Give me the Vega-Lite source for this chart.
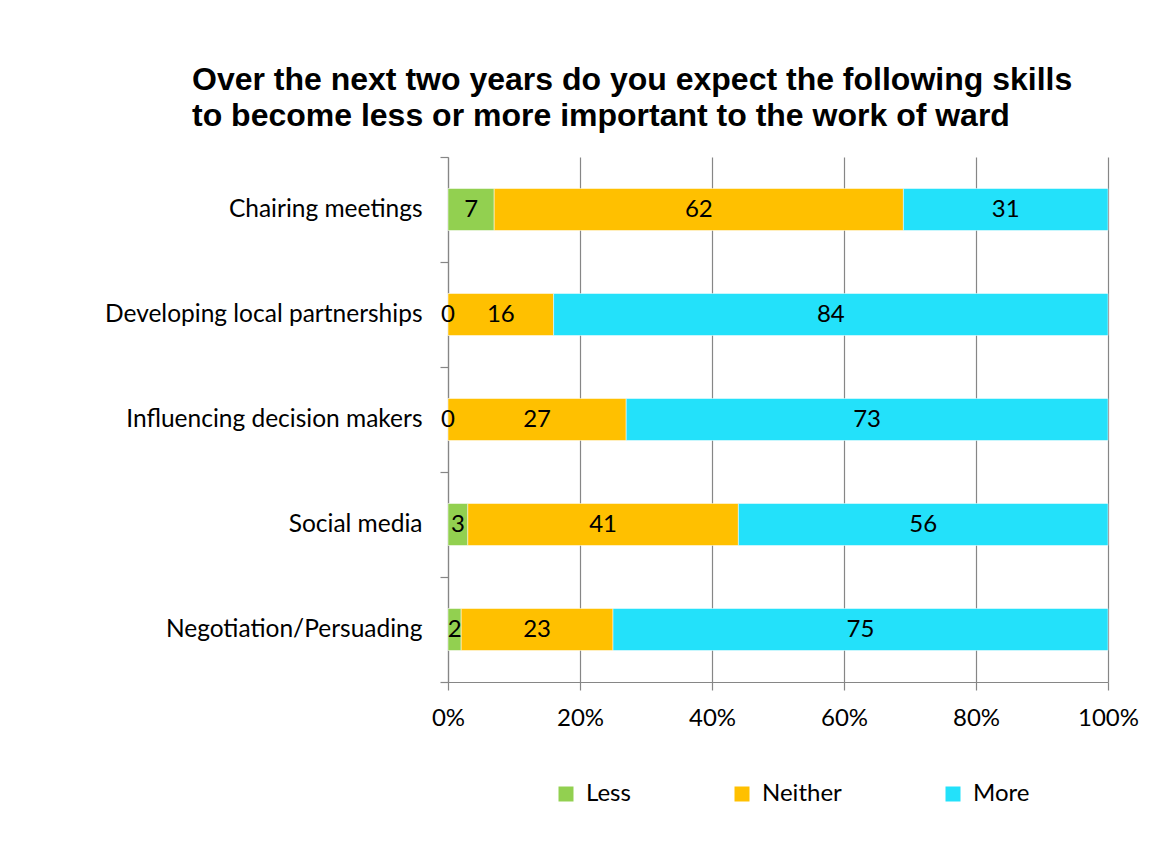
{
  "$schema": "https://vega.github.io/schema/vega-lite/v6.json",
  "width": 660,
  "height": 525,
  "autosize": {"type": "none"},
  "padding": {"left": 448, "top": 157, "right": 50, "bottom": 164},
  "background": "white",
  "title": {
    "text": [
      "Over the next two years do you expect the following skills",
      "to become less or more important to the work of ward"
    ],
    "anchor": "start",
    "frame": "group",
    "dx": -256,
    "offset": 11,
    "font": "Liberation Sans",
    "fontSize": 32,
    "fontWeight": "bold",
    "color": "black",
    "lineHeight": 36
  },
  "data": {
    "values": [
      {"skill": "Chairing meetings", "response": "Less", "order": 1, "value": 7},
      {"skill": "Chairing meetings", "response": "Neither", "order": 2, "value": 62},
      {"skill": "Chairing meetings", "response": "More", "order": 3, "value": 31},
      {"skill": "Developing local partnerships", "response": "Less", "order": 1, "value": 0},
      {"skill": "Developing local partnerships", "response": "Neither", "order": 2, "value": 16},
      {"skill": "Developing local partnerships", "response": "More", "order": 3, "value": 84},
      {"skill": "Influencing decision makers", "response": "Less", "order": 1, "value": 0},
      {"skill": "Influencing decision makers", "response": "Neither", "order": 2, "value": 27},
      {"skill": "Influencing decision makers", "response": "More", "order": 3, "value": 73},
      {"skill": "Social media", "response": "Less", "order": 1, "value": 3},
      {"skill": "Social media", "response": "Neither", "order": 2, "value": 41},
      {"skill": "Social media", "response": "More", "order": 3, "value": 56},
      {"skill": "Negotiation/Persuading", "response": "Less", "order": 1, "value": 2},
      {"skill": "Negotiation/Persuading", "response": "Neither", "order": 2, "value": 23},
      {"skill": "Negotiation/Persuading", "response": "More", "order": 3, "value": 75}
    ]
  },
  "transform": [
    {"stack": "value", "groupby": ["skill"], "sort": [{"field": "order"}], "as": ["s0", "s1"]}
  ],
  "encoding": {
    "y": {
      "field": "skill",
      "type": "nominal",
      "sort": [
        "Chairing meetings",
        "Developing local partnerships",
        "Influencing decision makers",
        "Social media",
        "Negotiation/Persuading"
      ],
      "scale": {"paddingInner": 0, "paddingOuter": 0},
      "axis": {
        "title": null,
        "domainColor": "#868686",
        "domainWidth": 1.2,
        "tickColor": "#868686",
        "tickWidth": 1.2,
        "tickSize": 8,
        "tickBand": "extent",
        "labelFont": "Lato",
        "labelFontSize": 24.5,
        "labelColor": "black",
        "labelPadding": 18,
        "labelLimit": 0,
        "grid": false
      }
    }
  },
  "layer": [
    {
      "mark": {"type": "bar", "stroke": "white", "strokeWidth": 0.5, "height": {"band": 0.4}},
      "encoding": {
        "x": {
          "field": "s0",
          "type": "quantitative",
          "scale": {"domain": [0, 100], "nice": false},
          "axis": {
            "title": null,
            "values": [0, 20, 40, 60, 80, 100],
            "labelExpr": "datum.value + '%'",
            "labelFlush": false,
            "grid": true,
            "gridColor": "#868686",
            "gridWidth": 1.2,
            "domainColor": "#868686",
            "domainWidth": 1.2,
            "tickColor": "#868686",
            "tickWidth": 1.2,
            "tickSize": 8,
            "labelFont": "Lato",
            "labelFontSize": 24,
            "labelColor": "black",
            "labelPadding": 16
          }
        },
        "x2": {"field": "s1"},
        "color": {
          "field": "response",
          "type": "nominal",
          "scale": {
            "domain": ["Less", "Neither", "More"],
            "range": ["#92D050", "#FFC000", "#23E1FA"]
          },
          "legend": {
            "title": null,
            "orient": "none",
            "legendX": 106,
            "legendY": 625,
            "direction": "horizontal",
            "columnPadding": 99,
            "symbolType": "square",
            "symbolSize": 225,
            "symbolStrokeWidth": 0,
            "labelFont": "Lato",
            "labelFontSize": 24,
            "labelColor": "black",
            "labelOffset": 8
          }
        }
      }
    },
    {
      "transform": [{"fold": ["s0", "s1"], "as": ["edge", "pos"]}],
      "mark": {"type": "text", "font": "Lato", "fontSize": 24, "color": "black"},
      "encoding": {
        "x": {"aggregate": "mean", "field": "pos", "type": "quantitative"},
        "text": {"field": "value", "type": "quantitative"},
        "detail": {"field": "response"}
      }
    }
  ],
  "config": {"view": {"stroke": null}}
}
